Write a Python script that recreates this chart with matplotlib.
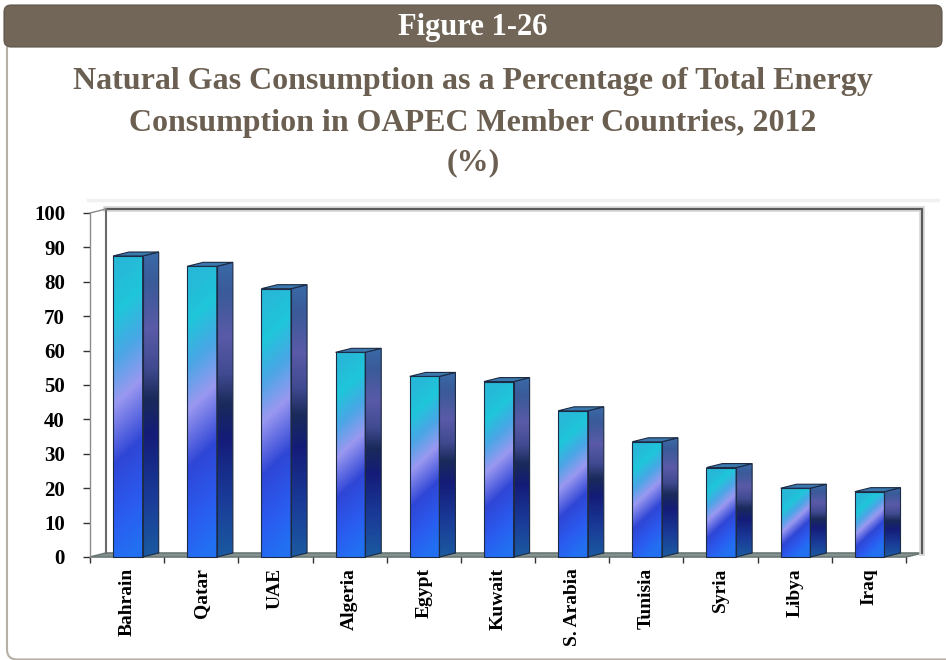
"""Natural gas share of total energy consumption, OAPEC members, 2012 (3-D style bars)."""

import matplotlib

matplotlib.use("Agg")
import matplotlib.pyplot as plt
import numpy as np
from matplotlib.colors import LinearSegmentedColormap
from matplotlib.patches import FancyBboxPatch, Polygon, Rectangle

# --- data -------------------------------------------------------------------
countries = ["Bahrain", "Qatar", "UAE", "Algeria", "Egypt", "Kuwait",
             "S. Arabia", "Tunisia", "Syria", "Libya", "Iraq"]
gas_share = [87.5, 84.5, 78.0, 59.5, 52.5, 51.0, 42.5, 33.5, 26.0, 20.0, 19.0]
y_ticks = [0, 10, 20, 30, 40, 50, 60, 70, 80, 90, 100]

header_text = "Figure 1-26"
title_lines = [
    "Natural Gas Consumption as a Percentage of Total Energy",
    "Consumption in OAPEC Member Countries, 2012",
    "(%)",
]

# --- style ------------------------------------------------------------------
W, H = 946, 660
BROWN = "#726658"
TITLE_COLOR = "#6b5f51"
SERIF = ["Liberation Serif", "DejaVu Serif"]

DEPTH_X = 0.216   # 3-D depth offset in category units (~16 px)
DEPTH_Y = 1.16    # 3-D depth offset in value units (~4 px)
FRONT_L, FRONT_R = -0.19, 0.21

front_cmap = LinearSegmentedColormap.from_list("front", [
    (0.00, "#2270f2"), (0.15, "#2a5cf0"), (0.35, "#2f46d6"),
    (0.55, "#9a98f0"), (0.70, "#4aa6e6"), (0.85, "#1fc6da"),
    (1.00, "#27b8d8"),
])
side_cmap = LinearSegmentedColormap.from_list("side", [
    (0.00, "#1a5aa0"), (0.20, "#1a3a98"), (0.40, "#141c78"),
    (0.52, "#1a2a5a"), (0.62, "#404a90"), (0.75, "#5a5aa8"),
    (0.90, "#3a5a98"), (1.00, "#3a6aa8"),
])

fig = plt.figure(figsize=(W / 100, H / 100), dpi=100)

# background axes in pixel units for header, frame and titles
bg = fig.add_axes([0, 0, 1, 1])
bg.set_xlim(0, W)
bg.set_ylim(H, 0)
bg.axis("off")

frame = FancyBboxPatch((7, 30), 1000, 629.5,
                       boxstyle="round,pad=0,rounding_size=10",
                       facecolor="none", edgecolor="#b5afa6", linewidth=1.5)
bg.add_patch(frame)
frame.set_clip_path(Rectangle((0, 47), W, H - 47, transform=bg.transData))
header = FancyBboxPatch((4, 5), 938, 42, boxstyle="round,pad=0,rounding_size=7",
                        facecolor=BROWN, edgecolor="#5e5448", linewidth=0.8)
bg.add_patch(header)
bg.text(473, 27, header_text, ha="center", va="center", color="white",
        fontsize=22, fontweight="bold", family=SERIF)

for line, ypos in zip(title_lines, [82, 124, 163]):
    bg.text(473, ypos, line, ha="center", va="center", color=TITLE_COLOR,
            fontsize=23, fontweight="bold", family=SERIF)

bg.plot([88, 938], [200, 200], color="#f1f1f1", linewidth=2.5)

# --- main plot --------------------------------------------------------------
ax = fig.add_axes([90 / W, 1 - 557 / H, (906 - 90) / W, (557 - 213) / H])
ax.patch.set_visible(False)

n = len(countries)
x_lo, x_hi = -0.5, n - 0.5

# walls and floor
ax.add_patch(Polygon([(x_lo, 0), (x_hi, 0), (x_hi + DEPTH_X, DEPTH_Y),
                      (x_lo + DEPTH_X, DEPTH_Y)], closed=True,
                     facecolor="#84928f", edgecolor="#6a7876", linewidth=1.2,
                     clip_on=False, zorder=1))
wall_x = [x_lo + DEPTH_X, x_hi + DEPTH_X, x_hi + DEPTH_X]
wall_y = [100 + DEPTH_Y, 100 + DEPTH_Y, DEPTH_Y]
ax.plot(wall_x, wall_y, color="#d4d4d4", linewidth=4, clip_on=False, zorder=1,
        solid_joinstyle="miter")
ax.plot(wall_x, wall_y, color="#5a5a5a", linewidth=1.5, clip_on=False, zorder=2,
        solid_joinstyle="miter")
ax.plot([x_lo + DEPTH_X, x_lo + DEPTH_X], [DEPTH_Y, 100 + DEPTH_Y],
        color="#6a6a6a", linewidth=1.5, clip_on=False, zorder=2)
ax.plot([x_lo, x_lo + DEPTH_X], [100, 100 + DEPTH_Y],
        color="#8a8a8a", linewidth=1.0, clip_on=False, zorder=2)

# bars with gradient faces
uu, vv = np.meshgrid(np.linspace(0, 1, 30), np.linspace(0, 1, 200))
side_grad = vv
for i, val in enumerate(gas_share):
    xf0, xf1 = i + FRONT_L, i + FRONT_R
    xs1 = xf1 + DEPTH_X
    # diagonal gradient on the front face, roughly 45 degrees on screen
    h_px = val * 3.44
    front_grad = np.clip(vv - 0.9 * 30 * (uu - 0.5) / h_px, 0, 1)

    front = Polygon([(xf0, 0), (xf1, 0), (xf1, val), (xf0, val)], closed=True,
                    facecolor="none", edgecolor="#1c2a44", linewidth=0.8,
                    zorder=6, clip_on=False)
    side = Polygon([(xf1, 0), (xs1, DEPTH_Y), (xs1, val + DEPTH_Y), (xf1, val)],
                   closed=True, facecolor="none", edgecolor="#1c2a44",
                   linewidth=0.8, zorder=6, clip_on=False)
    top = Polygon([(xf0, val), (xf1, val), (xs1, val + DEPTH_Y),
                   (xf0 + DEPTH_X, val + DEPTH_Y)], closed=True,
                  facecolor="#3b78ae", edgecolor="#1c2a44", linewidth=0.8,
                  zorder=6, clip_on=False)
    for patch in (front, side, top):
        ax.add_patch(patch)

    im_f = ax.imshow(front_grad, extent=(xf0, xf1, 0, val), origin="lower",
                     cmap=front_cmap, vmin=0, vmax=1, aspect="auto",
                     interpolation="bilinear", zorder=5)
    im_f.set_clip_path(front)
    im_s = ax.imshow(side_grad, extent=(xf1, xs1, 0, val + DEPTH_Y),
                     origin="lower", cmap=side_cmap, vmin=0, vmax=1,
                     aspect="auto", interpolation="bilinear", zorder=5)
    im_s.set_clip_path(side)

ax.set_xlim(x_lo, x_hi)
ax.set_ylim(0, 100)

for side_name in ("top", "right", "bottom"):
    ax.spines[side_name].set_visible(False)
ax.spines["left"].set_color("#8c8c8c")
ax.spines["left"].set_linewidth(1.0)

ax.set_yticks(y_ticks)
ax.set_yticklabels([str(t) for t in y_ticks], fontsize=15, fontweight="bold",
                   family=SERIF)
ax.tick_params(axis="y", length=5, width=1, color="#333333", pad=13)

ax.set_xticks(np.arange(n + 1) - 0.5)
ax.set_xticklabels([])
ax.set_xticks(np.arange(n), minor=True)
ax.set_xticklabels(countries, minor=True, rotation=90, fontsize=14,
                   fontweight="bold", family=SERIF, va="top", ha="center")
ax.tick_params(axis="x", which="major", length=4, width=1, color="#333333")
ax.tick_params(axis="x", which="minor", length=0, pad=8)

fig.savefig("out.png", dpi=100)
